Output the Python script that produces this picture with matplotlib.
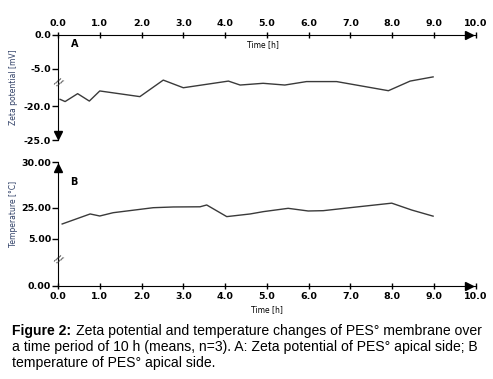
"""Zeta potential and temperature of PES membrane over 10 h (two stacked panels)."""

import matplotlib.pyplot as plt
import numpy as np

# panel A: zeta potential [mV]
zeta_time = [0.05, 0.17, 0.47, 0.75, 1.0, 1.96, 2.52, 3.0, 4.08, 4.36, 4.91, 5.43,
             5.95, 6.67, 7.91, 8.43, 8.98]
zeta_mv = [-17.3, -18.2, -15.0, -18.0, -13.9, -16.2, -9.5, -12.6, -9.9, -11.5, -10.8,
           -11.5, -10.1, -10.1, -13.8, -9.9, -8.2]
zeta_ticks = [0.0, -5.0, -20.0, -25.0]

# panel B: temperature [°C]
temp_time = [0.1, 0.77, 1.0, 1.32, 2.28, 2.76, 3.4, 3.56, 4.04, 4.6, 4.92, 5.51,
             5.99, 6.35, 6.99, 7.99, 8.47, 8.98]
temp_c = [14.6, 21.0, 19.7, 21.8, 25.0, 25.08, 25.1, 25.3, 19.3, 21.0, 22.5, 24.6,
          22.9, 23.1, 25.0, 25.5, 23.5, 19.6]
temp_ticks = [0.0, 5.0, 25.0, 30.0]

time_ticks = np.arange(0, 10.5, 1.0)

# broken axes: tick value -> position (pixels apart in the original)
ZETA_VALS = [-25.0, -20.0, -5.0, 0.0]
ZETA_POS = [-105.5, -71.5, -34.5, 0.0]
TEMP_VALS = [0.0, 5.0, 25.0, 30.0]
TEMP_POS = [0.0, 46.7, 78.0, 123.4]

LINE_COLOR = "#3a3a3a"
LABEL_COLOR = "#2f3f66"
TICK_FONT = dict(family="DejaVu Sans", weight="bold", size=6.8)


def piecewise(vals, pos):
    fwd = lambda v: np.interp(v, vals, pos)
    inv = lambda p: np.interp(p, pos, vals)
    return fwd, inv


def style_axis(ax, ticks, fmt):
    for side in ("top", "bottom", "left", "right"):
        ax.spines[side].set_visible(False)
    ax.set_xlim(0, 10)
    ax.set_xticks(time_ticks)
    ax.set_xticklabels([f"{t:.1f}" for t in time_ticks], **TICK_FONT)
    ax.set_yticks(ticks)
    ax.set_yticklabels([fmt.format(t) for t in ticks], **TICK_FONT)
    ax.tick_params(axis="y", direction="out", length=4, width=1, pad=1)
    ax.tick_params(axis="x", direction="inout", length=5, width=1, pad=2)


def break_mark(ax, y):
    ax.text(0, y, "//", transform=ax.get_yaxis_transform(), ha="center", va="center",
            fontsize=7, rotation=-35, color="#333333", clip_on=False)


fig = plt.figure(figsize=(4.93, 3.79), dpi=100)

# ---- panel A
ax_a = fig.add_axes([58 / 493, 1 - 140 / 379, 417.7 / 493, 105.5 / 379])
ax_a.set_yscale("function", functions=piecewise(ZETA_VALS, ZETA_POS))
ax_a.set_ylim(-25, 0)
style_axis(ax_a, zeta_ticks, "{:.1f}")
ax_a.spines["top"].set_visible(True)
ax_a.spines["left"].set_visible(True)
ax_a.xaxis.tick_top()
ax_a.plot(zeta_time, zeta_mv, color=LINE_COLOR, lw=1.0)
ax_a.plot([0.985], [1], marker=">", color="black", ms=6, transform=ax_a.transAxes, clip_on=False)
ax_a.plot([0], [0.05], marker="v", color="black", ms=6, transform=ax_a.transAxes, clip_on=False)
ax_a.text(0.03, 0.88, "A", transform=ax_a.transAxes, fontsize=7, fontweight="bold",
          family="DejaVu Sans")
ax_a.text(0.49, 0.88, "Time [h]", transform=ax_a.transAxes, fontsize=5.5, ha="center")
ax_a.set_ylabel("Zeta potential [mV]", color=LABEL_COLOR, fontsize=5.5)
ax_a.yaxis.set_label_coords(-0.095, 0.5)
break_mark(ax_a, -10.7)

# ---- panel B
ax_b = fig.add_axes([58 / 493, 1 - 285.7 / 379, 417.7 / 493, 123.4 / 379])
ax_b.set_yscale("function", functions=piecewise(TEMP_VALS, TEMP_POS))
ax_b.set_ylim(0, 30)
style_axis(ax_b, temp_ticks, "{:.2f}")
ax_b.spines["bottom"].set_visible(True)
ax_b.spines["left"].set_visible(True)
ax_b.plot(temp_time, temp_c, color=LINE_COLOR, lw=1.0)
ax_b.plot([0.985], [0], marker=">", color="black", ms=6, transform=ax_b.transAxes, clip_on=False)
ax_b.plot([0], [0.955], marker="^", color="black", ms=6, transform=ax_b.transAxes, clip_on=False)
ax_b.text(0.03, 0.82, "B", transform=ax_b.transAxes, fontsize=7, fontweight="bold",
          family="DejaVu Sans")
ax_b.set_xlabel("Time [h]", fontsize=5.5, labelpad=3)
ax_b.set_ylabel("Temperature [°C]", color=LABEL_COLOR, fontsize=5.5)
ax_b.yaxis.set_label_coords(-0.095, 0.58)
break_mark(ax_b, 2.75)

# ---- caption
cap = dict(fontsize=10.1, family="Liberation Sans", va="baseline")
fig.text(12 / 493, 1 - 335 / 379, "Figure 2:", fontweight="bold", **cap)
fig.text(76 / 493, 1 - 335 / 379,
         "Zeta potential and temperature changes of PES° membrane over", **cap)
fig.text(12 / 493, 1 - 351 / 379,
         "a time period of 10 h (means, n=3). A: Zeta potential of PES° apical side; B", **cap)
fig.text(12 / 493, 1 - 367 / 379, "temperature of PES° apical side.", **cap)

fig.savefig("out.png", dpi=100)
